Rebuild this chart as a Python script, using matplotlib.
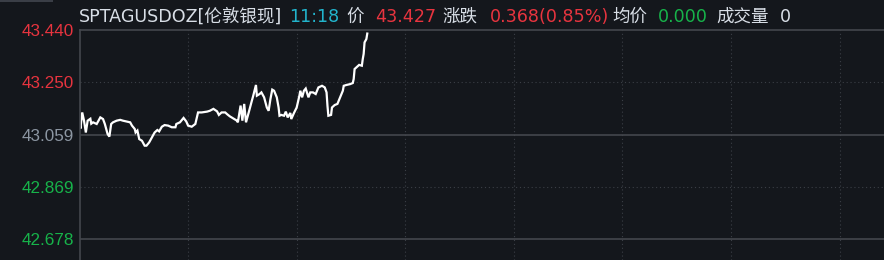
import matplotlib
matplotlib.use("Agg")
import matplotlib.pyplot as plt
from matplotlib.patches import Rectangle

# minutes since 06:00 and last price
minutes = [0, 1, 3, 5, 7, 9, 12, 13, 15, 19, 23, 26, 28, 31, 33, 35, 37, 41, 45, 48,
           52, 56, 58, 61, 62, 64, 66, 69, 72, 74, 77, 80, 83, 86, 88, 91, 94, 98, 102, 106,
           107, 111, 115, 118, 120, 124, 128, 131, 135, 141, 144, 148, 152, 154, 157, 161, 163, 166, 170, 174,
           175, 178, 180, 182, 184, 187, 190, 192, 195, 196, 199, 201, 204, 207, 209, 211, 213, 215, 218, 220,
           221, 223, 226, 228, 230, 233, 234, 237, 240, 243, 244, 246, 248, 250, 253, 255, 258, 261, 264, 268,
           271, 273, 274, 275, 278, 279, 282, 285, 288, 291, 292, 295, 299, 302, 303, 304, 306, 309, 312, 313,
           314, 315, 317, 318]
prices = [43.104, 43.081, 43.140, 43.110, 43.067, 43.110, 43.117, 43.099, 43.104, 43.098,
          43.122, 43.116, 43.098, 43.062, 43.052, 43.098, 43.104, 43.110, 43.113, 43.110,
          43.107, 43.104, 43.092, 43.080, 43.067, 43.074, 43.043, 43.037, 43.019, 43.019,
          43.031, 43.049, 43.067, 43.076, 43.071, 43.088, 43.094, 43.092, 43.086, 43.086,
          43.098, 43.104, 43.120, 43.107, 43.092, 43.088, 43.098, 43.140, 43.140, 43.143,
          43.146, 43.153, 43.144, 43.131, 43.140, 43.140, 43.134, 43.126, 43.118, 43.110,
          43.104, 43.165, 43.110, 43.171, 43.104, 43.140, 43.177, 43.201, 43.240, 43.201,
          43.207, 43.213, 43.195, 43.158, 43.146, 43.189, 43.223, 43.219, 43.195, 43.158,
          43.128, 43.131, 43.128, 43.143, 43.122, 43.138, 43.116, 43.138, 43.158, 43.201,
          43.219, 43.195, 43.219, 43.227, 43.195, 43.213, 43.213, 43.207, 43.231, 43.237,
          43.231, 43.213, 43.165, 43.128, 43.131, 43.158, 43.167, 43.171, 43.195, 43.219,
          43.237, 43.240, 43.243, 43.247, 43.262, 43.298, 43.304, 43.313, 43.310, 43.334,
          43.353, 43.395, 43.407, 43.427]

prev_close = 43.059
ytick_vals = [43.440, 43.250, 43.059, 42.869, 42.678]
ytick_labels = ["43.440", "43.250", "43.059", "42.869", "42.678"]

header = [("SPTAGUSDOZ[伦敦银现]", "label"), ("11:18", "time"), ("价", "label"),
          ("43.427", "up"), ("涨跌", "label"), ("0.368(0.85%)", "up"),
          ("均价", "label"), ("0.000", "down"), ("成交量", "label"), ("0", "label")]
header_x = [79, 289, 346, 375, 442, 490, 612, 658, 716, 780]

BG = "#14171c"
RED = "#e8343f"
GREEN = "#17b34a"
CYAN = "#22b4cc"
LABEL = "#d8dee6"
NEUTRAL = "#8c96a2"
GRID = "#3b3f46"
SOLID = "#44474d"
colors = {"label": LABEL, "time": CYAN, "up": RED, "down": GREEN}

plt.rcParams["font.family"] = ["Liberation Sans", "Noto Sans CJK SC", "DejaVu Sans"]

W, H = 884, 260
fig = plt.figure(figsize=(W / 100, H / 100), dpi=100, facecolor=BG)
ax = fig.add_axes([79.5 / W, 0, 1 - 79.5 / W, 1 - 30 / H], facecolor=BG)

ax.set_xlim(0, 889)
ax.set_ylim(42.603, 43.440)

for t in range(120, 889, 120):
    ax.axvline(t, color=GRID, lw=0.8, ls=(0, (1, 2.5)))
for v in [43.250, 42.869]:
    ax.axhline(v, color=GRID, lw=0.8, ls=(0, (1, 2.5)))
for v in [prev_close, 42.678]:
    ax.axhline(v, color=SOLID, lw=1.2)

ax.plot(minutes, prices, color="white", lw=1.6, solid_joinstyle="miter")

for s in ["right", "bottom"]:
    ax.spines[s].set_visible(False)
for s in ["left", "top"]:
    ax.spines[s].set_color(SOLID)
    ax.spines[s].set_linewidth(1.2)

ax.set_xticks([])
ax.set_yticks(ytick_vals)
ax.set_yticklabels(ytick_labels, fontsize=12.3)
ax.tick_params(axis="y", length=0, pad=4)
for lbl, v in zip(ax.get_yticklabels(), ytick_vals):
    if v > prev_close + 1e-6:
        lbl.set_color(RED)
    elif v < prev_close - 1e-6:
        lbl.set_color(GREEN)
    else:
        lbl.set_color(NEUTRAL)

for (txt, kind), x in zip(header, header_x):
    fig.text(x / W, 1 - 22 / H, txt, color=colors[kind], fontsize=12.6,
             family=["DejaVu Sans", "Noto Sans CJK SC"], ha="left", va="baseline")

# thin tab strip along the top edge
fig.add_artist(Rectangle((0, 1 - 1.5 / H), 53 / W, 1.5 / H, transform=fig.transFigure,
                         color="#3a3e46", lw=0))

fig.savefig("out.png", dpi=100, facecolor=BG)
